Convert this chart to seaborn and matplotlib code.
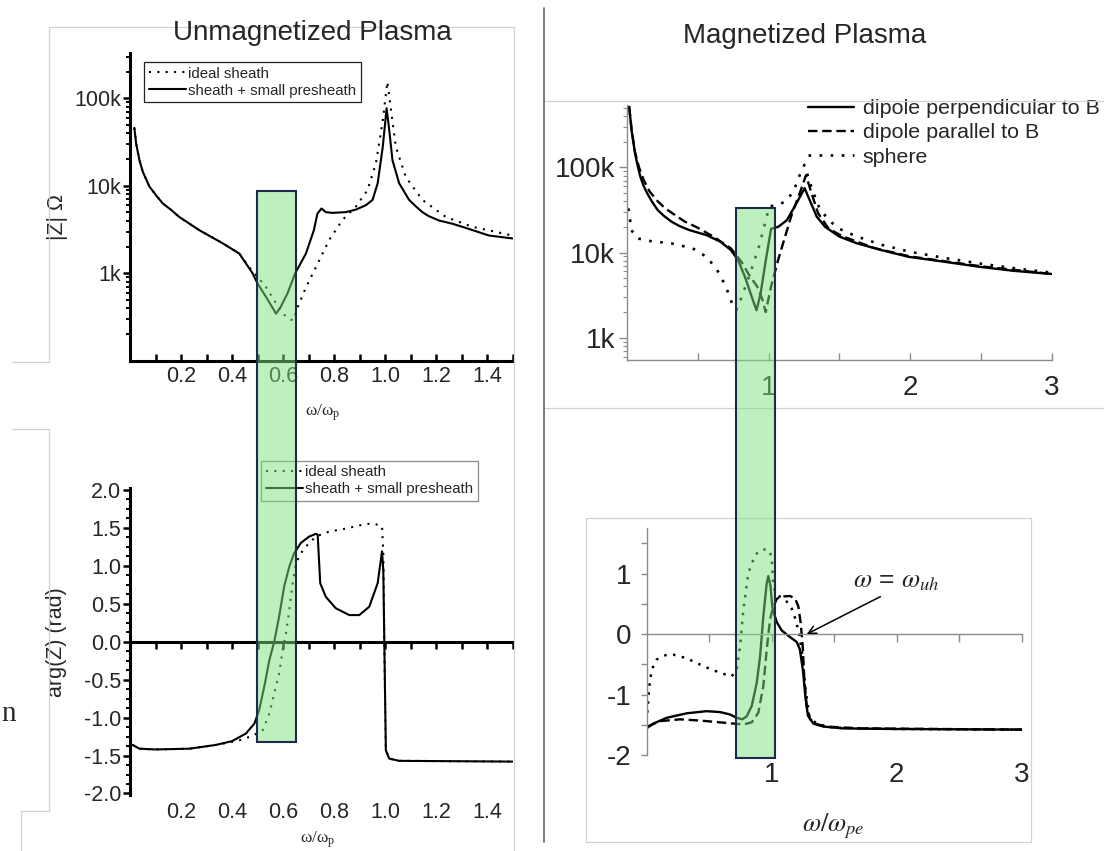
import matplotlib
matplotlib.use("Agg")
import matplotlib.pyplot as plt
import numpy as np
import seaborn as sns
from matplotlib.lines import Line2D
from matplotlib.patches import Rectangle
from matplotlib.ticker import AutoMinorLocator, FixedLocator, LogLocator, NullFormatter

W, H = 1104, 851

# ---- unmagnetized plasma, |Z| (ohm) vs w/wp ----
TL_W_PRESHEATH = [0.017, 0.024, 0.037, 0.05, 0.076, 0.102, 0.128, 0.161, 0.193, 0.232, 0.272, 0.363, 0.428,
                  0.48, 0.50, 0.533, 0.572, 0.59, 0.617, 0.647, 0.689, 0.72, 0.734, 0.75, 0.767, 0.793,
                  0.845, 0.885, 0.924, 0.95, 0.97, 0.99, 1.005, 1.015, 1.028, 1.054, 1.093, 1.12, 1.145,
                  1.17, 1.211, 1.26, 1.315, 1.406, 1.498]
TL_Z_PRESHEATH = [46000, 30500, 19600, 14500, 9800, 7800, 6300, 5300, 4400, 3700, 3100, 2200, 1680,
                  1000, 760, 535, 345, 410, 590, 1000, 1680, 3100, 4800, 5500, 5000, 4900,
                  5000, 5350, 6000, 6900, 10700, 28000, 77000, 44000, 19600, 10700, 6900, 5800, 5000,
                  4500, 4000, 3700, 3300, 2700, 2500]
TL_W_IDEAL = [0.017, 0.024, 0.037, 0.05, 0.076, 0.102, 0.128, 0.161, 0.193, 0.232, 0.272, 0.363, 0.428,
              0.467, 0.50, 0.533, 0.565, 0.598, 0.63, 0.64, 0.657, 0.689, 0.728, 0.78, 0.833, 0.885,
              0.93, 0.963, 0.99, 1.008, 1.022, 1.041, 1.08, 1.145, 1.237, 1.341, 1.498]
TL_Z_IDEAL = [46000, 30500, 19600, 14500, 9800, 7800, 6300, 5300, 4400, 3700, 3100, 2200, 1680,
              1170, 910, 690, 490, 345, 295, 290, 410, 690, 1170, 2400, 4100, 5800,
              8900, 18000, 56000, 155000, 74000, 28000, 12600, 6900, 4400, 3400, 2700]

# ---- unmagnetized plasma, arg(Z) (rad) ----
BL_W_PRESHEATH = [0.01, 0.037, 0.10, 0.233, 0.337, 0.40, 0.454, 0.487, 0.506, 0.526, 0.546, 0.565, 0.584,
                  0.604, 0.624, 0.643, 0.669, 0.702, 0.728, 0.735, 0.745, 0.767, 0.806, 0.859, 0.898,
                  0.937, 0.97, 0.987, 0.992, 0.996, 1.002, 1.015, 1.054, 1.498]
BL_ARG_PRESHEATH = [-1.36, -1.41, -1.42, -1.41, -1.36, -1.31, -1.21, -1.08, -0.90, -0.59, -0.24, 0.0, 0.33,
                    0.73, 0.99, 1.165, 1.30, 1.385, 1.42, 1.41, 0.77, 0.59, 0.44, 0.35, 0.35,
                    0.46, 0.77, 1.19, 0.945, 0.0, -1.43, -1.54, -1.57, -1.58]
BL_W_IDEAL = [0.01, 0.037, 0.10, 0.233, 0.337, 0.40, 0.428, 0.48, 0.52, 0.546, 0.565, 0.584, 0.598,
              0.611, 0.624, 0.637, 0.65, 0.669, 0.695, 0.728, 0.78, 0.846, 0.911, 0.95, 0.987,
              0.992, 0.996, 1.002, 1.015, 1.054, 1.498]
BL_ARG_IDEAL = [-1.36, -1.41, -1.42, -1.41, -1.36, -1.32, -1.30, -1.24, -1.165, -0.945, -0.68, -0.42, -0.11,
                0.11, 0.42, 0.77, 1.03, 1.165, 1.275, 1.385, 1.45, 1.49, 1.54, 1.56, 1.52,
                1.19, 0.0, -1.43, -1.54, -1.57, -1.58]

# ---- magnetized plasma, |Z| vs w/wpe ----
TR_W_PERP = [0.015, 0.025, 0.032, 0.057, 0.075, 0.094, 0.115, 0.143, 0.175, 0.217, 0.26, 0.315, 0.37, 0.438,
             0.562, 0.66, 0.734, 0.784, 0.833, 0.882, 0.915, 0.944, 0.981, 1.018, 1.068, 1.13, 1.19,
             1.255, 1.29, 1.34, 1.40, 1.50, 1.62, 1.795, 1.99, 2.24, 2.49, 2.73, 3.0]
TR_Z_PERP = [515e3, 360e3, 275e3, 146e3, 105e3, 78e3, 62e3, 49.5e3, 40e3, 31.5e3, 27e3, 23e3, 20.5e3, 18.4e3,
             16e3, 13.4e3, 10.7e3, 8.2e3, 5.2e3, 3.0e3, 2.1e3, 3.3e3, 8.2e3, 19e3, 20e3, 24e3, 36e3,
             57e3, 41.5e3, 26.5e3, 20e3, 15.4e3, 12.9e3, 10.7e3, 8.9e3, 7.8e3, 6.8e3, 6.1e3, 5.6e3]
TR_W_PAR = [0.015, 0.025, 0.032, 0.057, 0.085, 0.118, 0.16, 0.217, 0.27, 0.34, 0.41, 0.488, 0.61, 0.734,
            0.81, 0.87, 0.92, 0.957, 0.98, 1.018, 1.068, 1.117, 1.167, 1.228, 1.265, 1.30, 1.35, 1.425,
            1.524, 1.746, 2.0, 2.5, 3.0]
TR_Z_PAR = [515e3, 370e3, 280e3, 150e3, 100e3, 71e3, 52e3, 40e3, 33e3, 27.5e3, 23e3, 20e3, 15.4e3, 11.2e3,
            7.7e3, 5.2e3, 4.0e3, 2.8e3, 2.0e3, 4.0e3, 8.2e3, 15.4e3, 29e3, 54e3, 81e3, 52e3, 29e3, 19e3,
            15.5e3, 11.3e3, 9.0e3, 6.9e3, 5.6e3]
TR_W_SPH = [0.01, 0.032, 0.069, 0.168, 0.315, 0.464, 0.562, 0.636, 0.698, 0.747, 0.772, 0.81, 0.87, 0.932,
            0.981, 1.006, 1.068, 1.13, 1.18, 1.216, 1.253, 1.31, 1.36, 1.425, 1.5, 1.62, 1.8, 2.0,
            2.25, 2.5, 2.75, 3.0]
TR_Z_SPH = [33e3, 18.3e3, 14.7e3, 13.6e3, 12.8e3, 11.2e3, 8.9e3, 6.3e3, 4.0e3, 2.4e3, 2.1e3, 3.0e3, 5.7e3, 11.7e3,
            24e3, 35e3, 36e3, 41e3, 54e3, 78e3, 107e3, 54e3, 33e3, 24e3, 19e3, 15.5e3, 12.3e3, 10.2e3,
            8.6e3, 7.4e3, 6.5e3, 5.8e3]

# ---- magnetized plasma, phase ----
BR_W_PERP = [0.005, 0.053, 0.16, 0.32, 0.48, 0.587, 0.667, 0.72, 0.765, 0.80, 0.84, 0.88, 0.907, 0.933,
             0.96, 0.973, 0.99, 1.005, 1.02, 1.04, 1.08, 1.147, 1.20, 1.225, 1.25, 1.27, 1.29, 1.333,
             1.413, 1.573, 2.0, 3.0]
BR_ARG_PERP = [-1.55, -1.48, -1.385, -1.31, -1.275, -1.29, -1.33, -1.385, -1.41, -1.36, -1.19, -0.81, -0.37, 0.29,
               0.84, 0.96, 0.80, 0.45, 0.33, 0.20, 0.06, -0.05, -0.13, -0.25, -0.60, -1.05, -1.35, -1.48,
               -1.53, -1.56, -1.57, -1.58]
BR_W_PAR = [0.005, 0.107, 0.267, 0.427, 0.587, 0.693, 0.773, 0.84, 0.893, 0.933, 0.96, 0.987, 1.013, 1.04,
            1.067, 1.147, 1.187, 1.213, 1.232, 1.248, 1.261, 1.28, 1.307, 1.36, 1.44, 1.707, 3.0]
BR_ARG_PAR = [-1.53, -1.44, -1.41, -1.43, -1.46, -1.48, -1.495, -1.46, -1.30, -0.86, -0.26, 0.25, 0.45, 0.58,
              0.62, 0.63, 0.59, 0.46, 0.18, -0.20, -0.75, -1.19, -1.41, -1.49, -1.53, -1.56, -1.58]
BR_W_SPH = [0.005, 0.021, 0.04, 0.08, 0.16, 0.213, 0.32, 0.453, 0.587, 0.68, 0.72, 0.747, 0.773, 0.813,
            0.867, 0.92, 0.973, 1.0, 1.013, 1.04, 1.093, 1.15, 1.19, 1.22, 1.245, 1.27, 1.30, 1.36,
            1.5, 2.0, 3.0]
BR_ARG_SPH = [-1.30, -0.86, -0.59, -0.42, -0.34, -0.34, -0.40, -0.53, -0.64, -0.70, -0.59, -0.20, 0.40, 1.01,
              1.31, 1.40, 1.40, 1.28, 0.79, 0.65, 0.59, 0.48, 0.25, 0.0, -0.35, -0.9, -1.35, -1.49,
              -1.55, -1.57, -1.58]

LEFT_XTICKS = [0.2, 0.4, 0.6, 0.8, 1.0, 1.2, 1.4]
LEFT_XMINOR = [0.1, 0.3, 0.5, 0.7, 0.9, 1.1, 1.3, 1.5]
Z_TICKS = [1e3, 1e4, 1e5]
Z_TICKLABELS = ["1k", "10k", "100k"]
ARG_TICKS = [-2.0, -1.5, -1.0, -0.5, 0.0, 0.5, 1.0, 1.5, 2.0]
RIGHT_XTICKS = [1, 2, 3]
RIGHT_XMINOR = [0.5, 1.5, 2.5]
BR_YTICKS = [-2, -1, 0, 1]
BR_YMINOR = [-1.5, -0.5, 0.5, 1.5]

sns.set_theme(style="white")
plt.rcParams["font.family"] = ["Liberation Sans", "DejaVu Sans"]
plt.rcParams["mathtext.fontset"] = "stix"
plt.rcParams["axes.unicode_minus"] = False

GRAY = "#8c8c8c"
DOT_L = (0, (1, 3))
DOT_R = (0, (1, 3.2))
DASH_R = (0, (4, 2))
LEFT_TICK_SIZE = 15.5
RIGHT_TICK_SIZE = 20


def px_axes(fig, left, top, right, bottom):
    return fig.add_axes([left / W, 1 - bottom / H, (right - left) / W, (bottom - top) / H])


def trace(ax, x, y, ls, lw, label=None):
    sns.lineplot(x=x, y=y, ax=ax, color="black", linestyle=ls, linewidth=lw, label=label,
                 estimator=None, sort=False, legend=False)


def fig_line(fig, p0, p1, color="#d2d2d2", lw=0.9):
    fig.add_artist(Line2D([p0[0] / W, p1[0] / W], [1 - p0[1] / H, 1 - p1[1] / H],
                          transform=fig.transFigure, color=color, lw=lw, zorder=1))


fig = plt.figure(figsize=(W / 100, H / 100), dpi=100)

# ---------------- top left: |Z| unmagnetized ----------------
ax = px_axes(fig, 130, 53, 513, 360.7)
ax.set_yscale("log")
trace(ax, TL_W_IDEAL, TL_Z_IDEAL, DOT_L, 1.5, "ideal sheath")
trace(ax, TL_W_PRESHEATH, TL_Z_PRESHEATH, "-", 1.5, "sheath + small presheath")
ax.set_xlim(0, 1.5)
ax.set_ylim(100, 3.3e5)
for s in ("top", "right"):
    ax.spines[s].set_visible(False)
for s in ("left", "bottom"):
    ax.spines[s].set_linewidth(2.2)
    ax.spines[s].set_color("black")
ax.xaxis.set_major_locator(FixedLocator(LEFT_XTICKS))
ax.xaxis.set_minor_locator(FixedLocator(LEFT_XMINOR))
ax.set_xticklabels([f"{v:.1f}" for v in LEFT_XTICKS])
ax.yaxis.set_major_locator(FixedLocator(Z_TICKS))
ax.set_yticklabels(Z_TICKLABELS)
ax.yaxis.set_minor_locator(LogLocator(base=10, subs=np.arange(2, 10)))
ax.yaxis.set_minor_formatter(NullFormatter())
ax.tick_params(axis="x", which="both", direction="in", bottom=True, length=5, width=1.8,
               color="black", labelsize=LEFT_TICK_SIZE, pad=4)
ax.tick_params(axis="y", which="major", direction="out", left=True, length=5, width=1.8,
               color="black", labelsize=LEFT_TICK_SIZE, pad=1.5)
ax.tick_params(axis="y", which="minor", direction="out", left=True, length=3, width=1.4, color="black")
ax.set_ylabel("|Z| \u03a9", fontsize=15.5)
ax.yaxis.set_label_coords(-0.162, 0.467)
ax.set_xlabel("\u03c9/\u03c9$_\\mathregular{p}$", fontsize=12.5, family=["Liberation Serif", "DejaVu Serif"])
ax.xaxis.set_label_coords(0.504, -0.137)
h, l = ax.get_legend_handles_labels()
leg = ax.legend(h, l, loc="upper left", bbox_to_anchor=(144 / W, 1 - 62 / H), bbox_transform=fig.transFigure,
                fontsize=10.8, frameon=True, fancybox=False, framealpha=1, edgecolor="#222222",
                borderpad=0.3, borderaxespad=0, handlelength=2.5, handletextpad=0.15, labelspacing=0.2)
leg.get_frame().set_linewidth(0.9)

# ---------------- bottom left: arg(Z) unmagnetized ----------------
ax = px_axes(fig, 130, 488.3, 513, 795)
trace(ax, BL_W_IDEAL, BL_ARG_IDEAL, DOT_L, 1.5, "ideal sheath")
trace(ax, BL_W_PRESHEATH, BL_ARG_PRESHEATH, "-", 1.5, "sheath + small presheath")
ax.set_xlim(0, 1.5)
ax.set_ylim(-2.02, 2.02)
for s in ("top", "right"):
    ax.spines[s].set_visible(False)
for s in ("left", "bottom"):
    ax.spines[s].set_linewidth(2.2)
    ax.spines[s].set_color("black")
ax.spines["bottom"].set_position(("data", 0))
ax.yaxis.set_major_locator(FixedLocator(ARG_TICKS))
ax.set_yticklabels([f"{v:.1f}" for v in ARG_TICKS])
ax.yaxis.set_minor_locator(AutoMinorLocator(4))
ax.xaxis.set_major_locator(FixedLocator(LEFT_XTICKS))
ax.xaxis.set_minor_locator(FixedLocator(LEFT_XMINOR))
ax.tick_params(axis="x", which="both", direction="out", bottom=True, labelbottom=False,
               length=5, width=1.8, color="black")
ax.tick_params(axis="y", which="major", direction="out", left=True, length=5, width=1.8,
               color="black", labelsize=LEFT_TICK_SIZE, pad=1.5)
ax.tick_params(axis="y", which="minor", direction="out", left=True, length=3, width=1.4, color="black")
sec = ax.secondary_xaxis("bottom")
sec.set_xticks(LEFT_XTICKS, labels=[f"{v:.1f}" for v in LEFT_XTICKS])
sec.spines["bottom"].set_visible(False)
sec.tick_params(length=0, labelsize=LEFT_TICK_SIZE, pad=5)
ax.set_ylabel("arg(Z) (rad)", fontsize=15.5)
ax.yaxis.set_label_coords(-0.165, 0.5)
ax.set_xlabel("\u03c9/\u03c9$_\\mathregular{p}$", fontsize=12.5, family=["Liberation Serif", "DejaVu Serif"])
ax.xaxis.set_label_coords(0.491, -0.112)
h, l = ax.get_legend_handles_labels()
leg = ax.legend(h, l, loc="upper left", bbox_to_anchor=(261 / W, 1 - 460.7 / H), bbox_transform=fig.transFigure,
                fontsize=10.8, frameon=True, fancybox=False, framealpha=1, edgecolor="#8a8a8a",
                borderpad=0.3, borderaxespad=0, handlelength=2.5, handletextpad=0.15, labelspacing=0.2)
leg.get_frame().set_linewidth(0.9)

# ---------------- top right: |Z| magnetized ----------------
ax = px_axes(fig, 627, 105, 1051.6, 360)
ax.set_yscale("log")
trace(ax, TR_W_PERP, TR_Z_PERP, "-", 1.7, "dipole perpendicular to B")
trace(ax, TR_W_PAR, TR_Z_PAR, DASH_R, 1.7, "dipole parallel to B")
trace(ax, TR_W_SPH, TR_Z_SPH, DOT_R, 1.9, "sphere")
ax.set_xlim(0, 3)
ax.set_ylim(547, 5.4e5)
for s in ("top", "right"):
    ax.spines[s].set_visible(False)
for s in ("left", "bottom"):
    ax.spines[s].set_linewidth(1.0)
    ax.spines[s].set_color(GRAY)
ax.xaxis.set_major_locator(FixedLocator(RIGHT_XTICKS))
ax.xaxis.set_minor_locator(FixedLocator(RIGHT_XMINOR))
ax.set_xticklabels([str(v) for v in RIGHT_XTICKS])
ax.yaxis.set_major_locator(FixedLocator(Z_TICKS))
ax.set_yticklabels(Z_TICKLABELS)
ax.yaxis.set_minor_locator(LogLocator(base=10, subs=np.arange(2, 10)))
ax.yaxis.set_minor_formatter(NullFormatter())
ax.tick_params(axis="x", which="both", direction="in", bottom=True, length=5, width=1.0,
               color=GRAY, labelsize=RIGHT_TICK_SIZE, pad=11)
ax.tick_params(axis="y", which="major", direction="out", left=True, length=5.5, width=1.0,
               color=GRAY, labelsize=RIGHT_TICK_SIZE, pad=3)
ax.tick_params(axis="y", which="minor", direction="out", left=True, length=3, width=0.8, color=GRAY)
h, l = ax.get_legend_handles_labels()
ax.legend(h, l, loc="upper left", bbox_to_anchor=(808 / W, 1 - 99 / H), bbox_transform=fig.transFigure,
          fontsize=15.4, frameon=False, borderpad=0, borderaxespad=0, handlelength=2.15,
          handletextpad=0.4, labelspacing=0.25)

# ---------------- bottom right: phase magnetized ----------------
ax = px_axes(fig, 646.7, 528.3, 1021.7, 755)
trace(ax, BR_W_PERP, BR_ARG_PERP, "-", 1.7)
trace(ax, BR_W_PAR, BR_ARG_PAR, DASH_R, 1.7)
trace(ax, BR_W_SPH, BR_ARG_SPH, (0, (1, 2.6)), 1.8)
ax.set_xlim(0, 3)
ax.set_ylim(-2, 1.75)
for s in ("top", "right"):
    ax.spines[s].set_visible(False)
for s in ("left", "bottom"):
    ax.spines[s].set_linewidth(1.0)
    ax.spines[s].set_color(GRAY)
ax.spines["bottom"].set_position(("data", 0))
ax.yaxis.set_major_locator(FixedLocator(BR_YTICKS))
ax.set_yticklabels([str(v) for v in BR_YTICKS])
ax.yaxis.set_minor_locator(FixedLocator(BR_YMINOR))
ax.xaxis.set_major_locator(FixedLocator(RIGHT_XTICKS))
ax.xaxis.set_minor_locator(FixedLocator(RIGHT_XMINOR))
ax.tick_params(axis="x", which="both", direction="out", bottom=True, labelbottom=False,
               length=6, width=1.0, color=GRAY)
ax.tick_params(axis="y", which="both", direction="out", left=True, length=4, width=1.0,
               color=GRAY, labelsize=RIGHT_TICK_SIZE, pad=7)
sec = ax.secondary_xaxis("bottom")
sec.set_xticks(RIGHT_XTICKS, labels=[str(v) for v in RIGHT_XTICKS])
sec.spines["bottom"].set_visible(False)
sec.tick_params(length=0, labelsize=RIGHT_TICK_SIZE, pad=5)
ax.set_xlabel(r"$\omega/\omega_{pe}$", fontsize=19)
ax.xaxis.set_label_coords(0.497, -0.25)
ax.text(1.65, 0.78, r"$\omega$ = $\omega_{uh}$", fontsize=19, ha="left", va="baseline")
ax.annotate("", xy=(1.28, 0.0), xytext=(1.87, 0.62),
            arrowprops=dict(arrowstyle="->", color="black", lw=1.1, shrinkA=0, shrinkB=0,
                            mutation_scale=14))

# ---------------- titles, frames and highlight bands ----------------
fig.text(312 / W, 1 - 33 / H, "Unmagnetized Plasma", ha="center", va="center", fontsize=20)
fig.text(805 / W, 1 - 36 / H, "Magnetized Plasma", ha="center", va="center", fontsize=20)
fig.text(1 / W, 1 - 714 / H, "n", ha="left", va="center", fontsize=21,
         family=["Liberation Serif", "DejaVu Serif"])

for p0, p1 in [((49, 27), (514, 27)), ((49, 27), (49, 362)), ((12, 362), (49, 362)),
               ((12, 429), (49, 429)), ((49, 429), (49, 811)), ((21, 811), (49, 811)),
               ((21, 811), (21, 851)), ((514, 27), (514, 851)),
               ((544, 101), (1104, 101)), ((544, 408), (1104, 408)),
               ((586, 518), (1031, 518)), ((586, 842), (1031, 842)),
               ((586, 518), (586, 842)), ((1031, 518), (1031, 842))]:
    fig_line(fig, p0, p1)
fig_line(fig, (544, 8), (544, 842), color="#707070", lw=1.3)

for x0, y0, x1, y1 in [(257, 191, 296, 742), (736, 208, 775, 758)]:
    fig.add_artist(Rectangle((x0 / W, 1 - y1 / H), (x1 - x0) / W, (y1 - y0) / H, transform=fig.transFigure,
                             facecolor="#7ee07e", alpha=0.5, edgecolor="none", zorder=20))
    fig.add_artist(Rectangle((x0 / W, 1 - y1 / H), (x1 - x0) / W, (y1 - y0) / H, transform=fig.transFigure,
                             fill=False, edgecolor="#1c2b4a", lw=1.5, zorder=21))

fig.savefig("out.png", dpi=100)
